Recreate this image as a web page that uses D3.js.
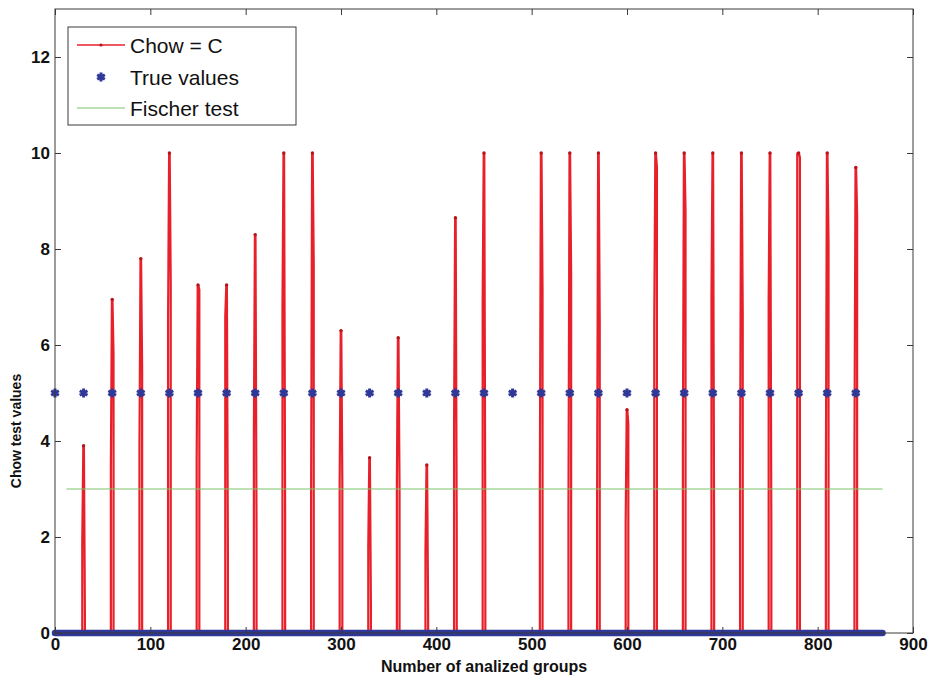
<!DOCTYPE html>
<html lang="en">
<head>
  <meta charset="UTF-8" />
  <title>Chow test values</title>
  <style>
    body { margin: 0; background: #fff; }
    text { font-family: "Liberation Sans", Arial, sans-serif; }
  </style>
</head>
<body>
  <svg id="chart" width="932" height="675"></svg>

  <script src="https://d3js.org/d3.v7.min.js"></script>
  <script>
    // spikes of the Chow statistic (group index, peak, left shoulder, right shoulder)
    const spikeX     = [30, 60, 90, 120, 150, 180, 210, 240, 270, 300, 330, 360, 390, 420, 450,
                        510, 540, 570, 600, 630, 660, 690, 720, 750, 780, 810, 840];
    const spikePeak  = [3.9, 6.95, 7.8, 10, 7.25, 7.25, 8.3, 10, 10, 6.3, 3.65, 6.15, 3.5, 8.65, 10,
                        10, 10, 10, 4.65, 10, 10, 10, 10, 10, 10, 10, 9.7];
    const spikeLeft  = [1.9, 3.45, 3.9, 6.5, 3.6, 6.6, 4.1, 6.8, 2.6, 3.15, 1.8, 3.1, 1.7, 4.3, 6.9,
                        3.2, 2.5, 2.6, 2.3, 6.5, 3.8, 7.0, 3.35, 6.9, 10, 3.1, 3.85];
    const spikeRight = [0.3, 5.8, 5.5, 7.3, 7.15, 1.5, 2.1, 2.5, 7.7, 3.1, 0.5, 3.0, 0.4, 2.0, 1.9,
                        7.15, 7.5, 6.5, 4.35, 9.7, 8.8, 2.0, 6.65, 2.2, 9.9, 8.1, 8.7];

    // true values: 5 at the break groups, 0 elsewhere
    const trueBreaks = [0, 30, 60, 90, 120, 150, 180, 210, 240, 270, 300, 330, 360, 390, 420, 450,
                        480, 510, 540, 570, 600, 630, 660, 690, 720, 750, 780, 810, 840];
    const trueLevel = 5;
    const groupRange = [0, 868];

    // Fischer test threshold
    const fischerRange = [12, 868];
    const fischerValue = 3;

    const xTicks = [0, 100, 200, 300, 400, 500, 600, 700, 800, 900];
    const yTicks = [0, 2, 4, 6, 8, 10, 12];

    const red = "#e8202a", blue = "#2f3797", green = "#7cc36a", axisCol = "#3a3a3a";

    const svg = d3.select("#chart");
    const x = d3.scaleLinear().domain([0, 900]).range([55, 913]);
    const y = d3.scaleLinear().domain([0, 13]).range([633, 9]);

    // build the Chow series as a polyline, each break a narrow vertical spike
    let chow = [[groupRange[0], 0]];
    spikeX.forEach((c, i) => {
      chow.push([c - 1.4, 0], [c - 1.4, spikeLeft[i]], [c - 0.3, spikePeak[i]], [c + 0.3, spikePeak[i]],
                [c + 1.4, spikeRight[i]], [c + 1.4, 0]);
    });
    chow.push([groupRange[1], 0]);

    const line = d3.line().x(d => x(d[0])).y(d => y(d[1]));

    const plot = svg.append("g");

    plot.append("path")
      .attr("d", line(chow))
      .attr("fill", "none")
      .attr("stroke", red)
      .attr("stroke-width", 2.2)
      .attr("stroke-linejoin", "bevel");

    plot.selectAll(".peak")
      .data(spikeX)
      .enter()
      .append("circle")
      .attr("class", "peak")
      .attr("cx", d => x(d))
      .attr("cy", (d, i) => y(spikePeak[i]))
      .attr("r", 1.7)
      .attr("fill", "#b5141a");

    // true values: dense band at zero, stars at 5
    plot.append("line")
      .attr("x1", x(groupRange[0]))
      .attr("x2", x(groupRange[1]))
      .attr("y1", y(0))
      .attr("y2", y(0))
      .attr("stroke", blue)
      .attr("stroke-width", 6.5)
      .attr("stroke-linecap", "round");

    const star = d3.symbol().type(d3.symbolAsterisk).size(55);
    plot.selectAll(".truept")
      .data(trueBreaks)
      .enter()
      .append("path")
      .attr("class", "truept")
      .attr("d", star)
      .attr("transform", d => `translate(${x(d)},${y(trueLevel)})`)
      .attr("fill", "none")
      .attr("stroke", blue)
      .attr("stroke-width", 3);

    plot.append("line")
      .attr("x1", x(fischerRange[0]))
      .attr("x2", x(fischerRange[1]))
      .attr("y1", y(fischerValue))
      .attr("y2", y(fischerValue))
      .attr("stroke", green)
      .attr("stroke-width", 1.2);

    // axes box
    svg.append("rect")
      .attr("x", x(0)).attr("y", y(13))
      .attr("width", x(900) - x(0)).attr("height", y(0) - y(13))
      .attr("fill", "none")
      .attr("stroke", axisCol)
      .attr("stroke-width", 1);

    const tl = 6;
    const axBottom = svg.append("g").attr("transform", `translate(0,${y(0)})`)
      .call(d3.axisBottom(x).tickValues(xTicks).tickSizeInner(-tl).tickSizeOuter(0));
    const axTop = svg.append("g").attr("transform", `translate(0,${y(13)})`)
      .call(d3.axisTop(x).tickValues(xTicks).tickSizeInner(-tl).tickSizeOuter(0).tickFormat(""));
    const axLeft = svg.append("g").attr("transform", `translate(${x(0)},0)`)
      .call(d3.axisLeft(y).tickValues(yTicks).tickSizeInner(-tl).tickSizeOuter(0));
    const axRight = svg.append("g").attr("transform", `translate(${x(900)},0)`)
      .call(d3.axisRight(y).tickValues(yTicks).tickSizeInner(-tl).tickSizeOuter(0).tickFormat(""));

    axLeft.selectAll(".tick text").attr("x", -5);

    [axBottom, axTop, axLeft, axRight].forEach(a => {
      a.select(".domain").remove();
      a.selectAll(".tick line").attr("stroke", axisCol);
      a.selectAll(".tick text")
        .attr("font-size", 17)
        .attr("font-weight", "bold")
        .attr("fill", "#111");
    });
    axBottom.selectAll(".tick text").attr("y", 5).attr("dy", "0.71em");

    svg.append("text")
      .attr("x", 484).attr("y", 672)
      .attr("text-anchor", "middle")
      .attr("font-size", 16)
      .attr("font-weight", "bold")
      .attr("fill", "#111")
      .text("Number of analized groups");

    svg.append("text")
      .attr("transform", "translate(21,431) rotate(-90)")
      .attr("text-anchor", "middle")
      .attr("font-size", 14)
      .attr("font-weight", "bold")
      .attr("fill", "#111")
      .text("Chow test values");

    // legend
    const lg = svg.append("g");
    lg.append("rect")
      .attr("x", 68).attr("y", 27).attr("width", 228).attr("height", 98)
      .attr("fill", "#fff").attr("stroke", axisCol).attr("stroke-width", 1);

    const legendItems = ["Chow = C", "True values", "Fischer test"];
    const ly = [45, 77, 108];

    lg.append("line").attr("x1", 77).attr("x2", 125).attr("y1", ly[0]).attr("y2", ly[0])
      .attr("stroke", red).attr("stroke-width", 1.5);
    lg.append("circle").attr("cx", 101).attr("cy", ly[0]).attr("r", 1.6).attr("fill", "#b5141a");
    lg.append("path").attr("d", star).attr("transform", `translate(101,${ly[1]})`)
      .attr("fill", "none").attr("stroke", blue).attr("stroke-width", 3);
    lg.append("line").attr("x1", 77).attr("x2", 125).attr("y1", ly[2]).attr("y2", ly[2])
      .attr("stroke", green).attr("stroke-width", 1.2);

    lg.selectAll(".ltext")
      .data(legendItems)
      .enter()
      .append("text")
      .attr("class", "ltext")
      .attr("x", 130)
      .attr("y", (d, i) => ly[i])
      .attr("dy", "0.36em")
      .attr("font-size", 21)
      .attr("fill", "#111")
      .text(d => d);
  </script>
</body>
</html>
